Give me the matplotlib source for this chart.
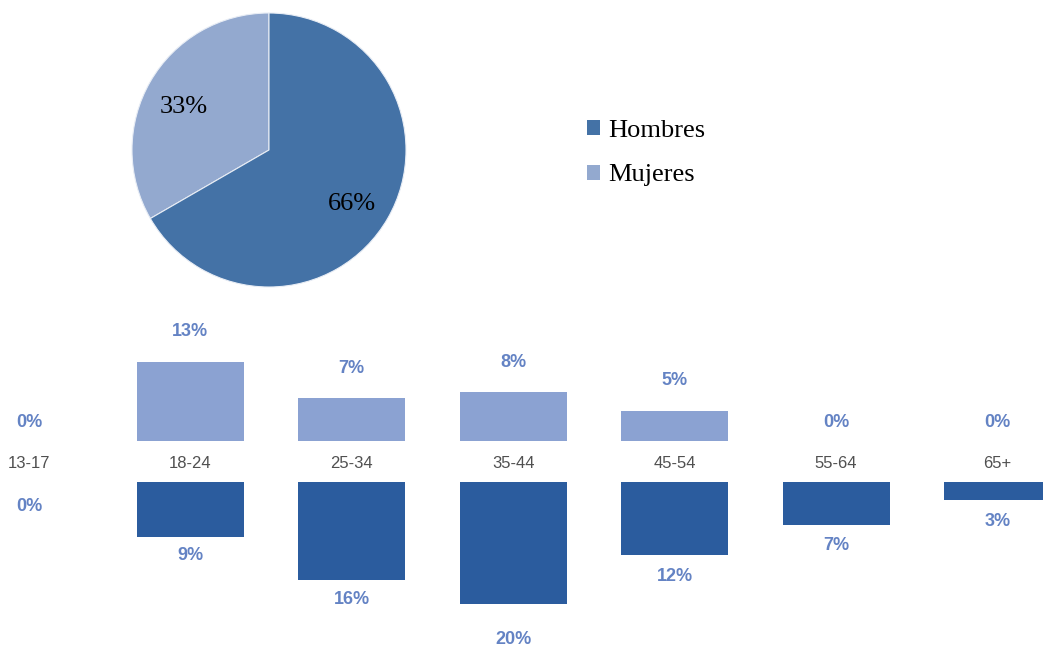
import matplotlib
matplotlib.use("Agg")
import matplotlib.pyplot as plt
from matplotlib.patches import Patch

# ---- data ----
gender_labels = ["Mujeres", "Hombres"]
gender_values = [33, 66]
age_groups = ["13-17", "18-24", "25-34", "35-44", "45-54", "55-64", "65+"]
mujeres = [0, 13, 7, 8, 5, 0, 0]
hombres = [0, 9, 16, 20, 12, 7, 3]

# ---- style ----
W, H = 1043, 647
DPI = 100
c_h = "#4472A6"
c_m = "#93A9CF"
bar_m = "#8BA2D2"
bar_h = "#2B5C9E"
lab_col = "#6483C4"
serif = ["Liberation Serif", "DejaVu Serif"]
sans = ["Liberation Sans", "DejaVu Sans"]

fig = plt.figure(figsize=(W / DPI, H / DPI), dpi=DPI)

# ---- pie ----
cx, cy, r = 269, 150, 137
axp = fig.add_axes([(cx - r) / W, (H - cy - r) / H, 2 * r / W, 2 * r / H])
total = sum(gender_values)
wedges, texts, autotexts = axp.pie(
    gender_values, colors=[c_m, c_h], startangle=90, counterclock=True,
    autopct=lambda p: f"{round(p * total / 100)}%", pctdistance=0.71,
    wedgeprops=dict(linewidth=0.8, edgecolor="#E8EDF5"),
    textprops=dict(family=serif, fontsize=19, color="black"))
for t in autotexts:
    x, y = t.get_position()
    t.set_position((x - 0.01, y - 0.04))
axp.set_xlim(-1, 1)
axp.set_ylim(-1, 1)
axp.set_aspect("equal")
axp.axis("off")

handles = [Patch(facecolor=c_h, edgecolor="none"), Patch(facecolor=c_m, edgecolor="none")]
fig.legend(handles, ["Hombres", "Mujeres"], loc="upper left",
           bbox_to_anchor=(587 / W, 1 - 120 / H), frameon=False,
           prop=dict(family=serif, size=19), handlelength=0.5, handleheight=0.5,
           handletextpad=0.3, labelspacing=0.85, borderpad=0, borderaxespad=0)

# ---- diverging bars ----
top_px = 310
axb = fig.add_axes([0, 0, 1, (H - top_px) / H])
spacing = 161.4
x0 = 29
scale = 6.1
mid = 461.5
axb.set_xlim(-x0 / spacing, (W - x0) / spacing)
axb.set_ylim(-(H - mid) / scale, (mid - top_px) / scale)
axb.axis("off")
gap = 20.5 / scale
width = 107 / spacing
xs = list(range(len(age_groups)))

axb.bar(xs, mujeres, bottom=gap, width=width, color=bar_m, edgecolor="none")
axb.bar(xs, [-v for v in hombres], bottom=-gap, width=width, color=bar_h, edgecolor="none")

men_off = [24, 19, 20, 36, 21, 21, 21]
for i, (m, h) in enumerate(zip(mujeres, hombres)):
    axb.annotate(f"{m}%", (i, gap + m), xytext=(0, (30 if m else 19) * 0.72),
                 textcoords="offset points", ha="center", va="center",
                 color=lab_col, fontsize=13, fontweight="bold", family=sans)
    axb.annotate(f"{h}%", (i, -gap - h), xytext=(0, -men_off[i] * 0.72),
                 textcoords="offset points", ha="center", va="center",
                 color=lab_col, fontsize=13, fontweight="bold", family=sans)
    axb.text(i, -0.3, age_groups[i], ha="center", va="center", color="#505050",
             fontsize=12, family=sans)

fig.savefig("out.png", dpi=DPI)
